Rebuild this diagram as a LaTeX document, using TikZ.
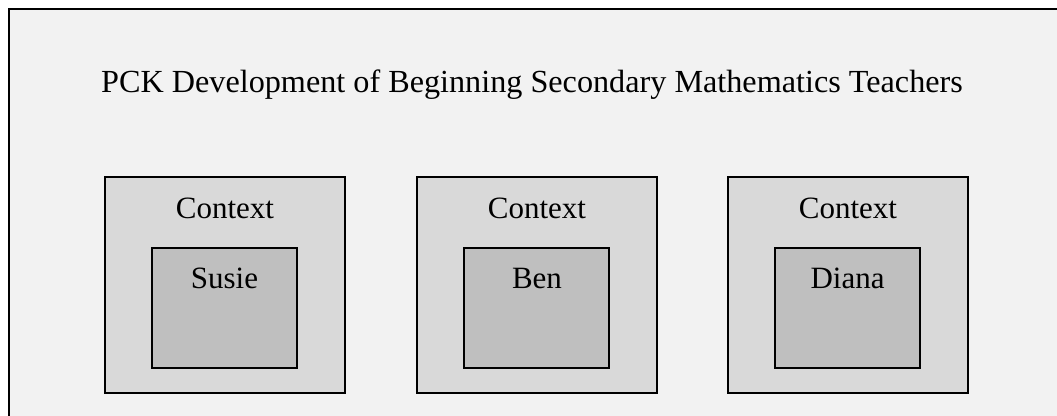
\documentclass[tikz,border=0pt]{standalone}
\usepackage{fontspec}
\setmainfont{Liberation Serif}
\definecolor{bgc}{HTML}{F2F2F2}
\definecolor{ctxc}{HTML}{D9D9D9}
\definecolor{innc}{HTML}{BFBFBF}
\begin{document}
\begin{tikzpicture}[x=1pt,y=-1pt,
  ctxbox/.style={draw=black,fill=ctxc,line width=1.3pt},
  innbox/.style={draw=black,fill=innc,line width=1.3pt},
  lbl/.style={anchor=base,inner sep=0pt,font=\fontsize{31}{37}\selectfont}]
\useasboundingbox (0,0) rectangle (1057,415);
\fill[white] (0,0) rectangle (1057,415);
\fill[bgc] (9,9) rectangle (1060,420);
\draw[line width=2.2pt] (9,418) -- (9,9) -- (1060,9);
\node[lbl,font=\fontsize{32.2}{38}\selectfont] (title) at (532,92) {PCK Development of Beginning Secondary Mathematics Teachers};
% box 1
\draw[ctxbox] (105,177) rectangle (345,393);
\draw[innbox] (152,248) rectangle (297,368);
\node[lbl] (c1) at (225,218) {Context};
\node[lbl] (s1) at (224.5,288) {Susie};
% box 2
\draw[ctxbox] (417,177) rectangle (657,393);
\draw[innbox] (464,248) rectangle (609,368);
\node[lbl] (c2) at (537,218) {Context};
\node[lbl] (s2) at (537,288) {Ben};
% box 3
\draw[ctxbox] (728,177) rectangle (968,393);
\draw[innbox] (775,248) rectangle (920,368);
\node[lbl] (c3) at (848,218) {Context};
\node[lbl] (s3) at (847.5,288) {Diana};
\end{tikzpicture}
\end{document}
